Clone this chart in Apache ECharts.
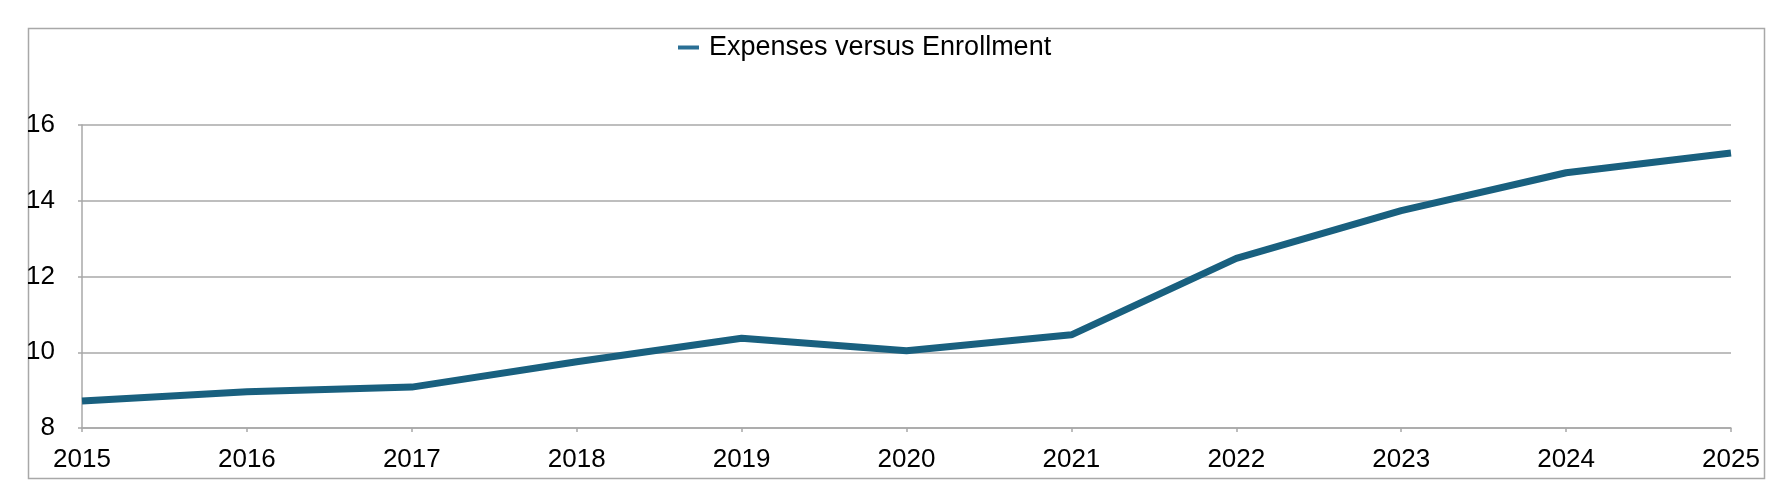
<!DOCTYPE html>
<html>
<head>
<meta charset="utf-8">
<script src="https://cdn.jsdelivr.net/npm/echarts@6/dist/echarts.min.js"></script>
<style>html,body{margin:0;padding:0;background:#fff}#c{width:1790px;height:501px}</style>
</head>
<body>
<div id="c"></div>
<script>
const categories = ['2015','2016','2017','2018','2019','2020','2021','2022','2023','2024','2025'];
const seriesName = 'Expenses versus Enrollment';
const values = [8.71, 8.96, 9.08, 9.75, 10.37, 10.04, 10.46, 12.48, 13.74, 14.74, 15.26];
const yTicks = { min: 8, max: 16, interval: 2 };

const chart = echarts.init(document.getElementById('c'));
const font = '"Liberation Sans", Arial, Helvetica, sans-serif';
chart.setOption({
  animation: false,
  textStyle: { fontFamily: font },
  graphic: [{
    type: 'rect', left: 26, top: 26, silent: true,
    shape: { x: 0, y: 0, width: 1736, height: 450 },
    style: { fill: 'none', stroke: '#a8a8a8', lineWidth: 1.5 }
  }],
  legend: {
    left: 673, top: 29,
    itemWidth: 21, itemHeight: 4, itemGap: 20,
    icon: 'rect',
    textStyle: { fontSize: 27, color: '#000', fontFamily: font, padding: [0, 0, 0, 5] },
    data: [{ name: seriesName, itemStyle: { color: '#2a6f95' } }]
  },
  grid: { left: 82, right: 59, top: 125, bottom: 73, containLabel: false },
  xAxis: {
    type: 'category', data: categories, boundaryGap: false,
    axisLine: { lineStyle: { color: '#a8a8a8', width: 1.5 } },
    axisTick: { show: true, length: 4, alignWithLabel: true, lineStyle: { color: '#a8a8a8', width: 1.5 } },
    axisLabel: { fontSize: 26, color: '#000', margin: 19, fontFamily: font, showMinLabel: true, showMaxLabel: true, interval: 0 },
    splitLine: { show: false }
  },
  yAxis: {
    type: 'value', min: yTicks.min, max: yTicks.max, interval: yTicks.interval,
    axisLine: { show: true, lineStyle: { color: '#a8a8a8', width: 1.5 } },
    axisTick: { show: true, length: 4, lineStyle: { color: '#a8a8a8', width: 1.5 } },
    axisLabel: { fontSize: 26, color: '#000', margin: 27, fontFamily: font },
    splitLine: { show: true, lineStyle: { color: '#a8a8a8', width: 1.5 } }
  },
  series: [{
    name: seriesName, type: 'line', data: values,
    symbol: 'none', smooth: false,
    lineStyle: { color: '#19607f', width: 7 },
    itemStyle: { color: '#2a6f95' }
  }]
});
</script>
</body>
</html>
